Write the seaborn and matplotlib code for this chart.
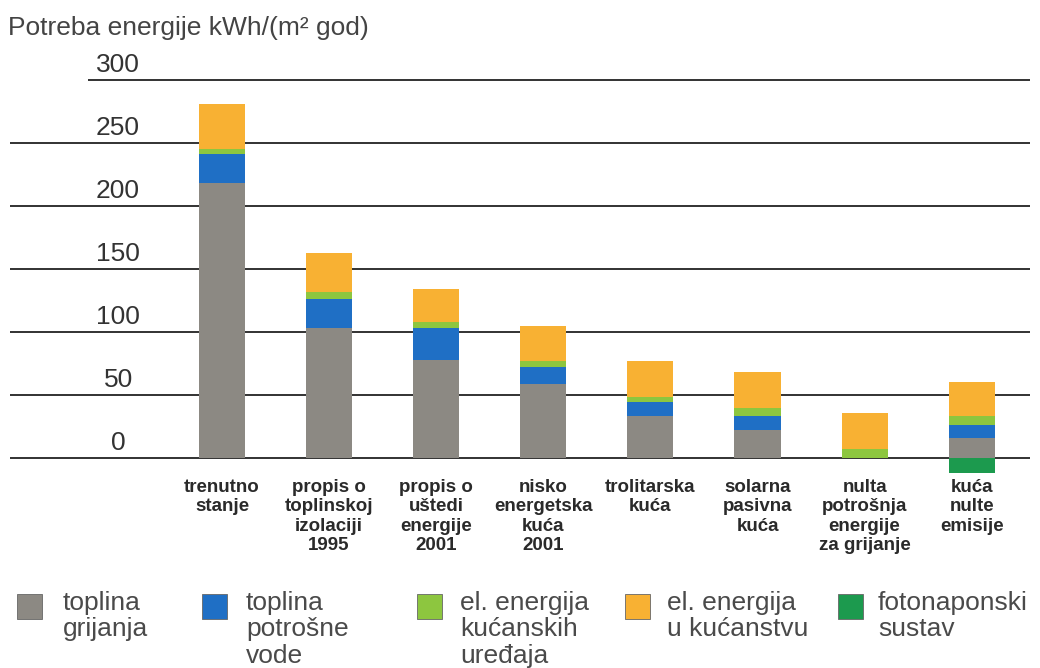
import numpy as np
import pandas as pd
import matplotlib.pyplot as plt
from matplotlib.patches import Rectangle
import seaborn as sns

sns.set_style('white')
plt.rcParams['font.family'] = ['Liberation Sans', 'DejaVu Sans']

# data (kWh/(m2 god))
categories = ['trenutno\nstanje', 'propis o\ntoplinskoj\nizolaciji\n1995', 'propis o\nuštedi\nenergije\n2001',
              'nisko\nenergetska\nkuća\n2001', 'trolitarska\nkuća', 'solarna\npasivna\nkuća',
              'nulta\npotrošnja\nenergije\nza grijanje', 'kuća\nnulte\nemisije']
toplina_grijanja = np.array([218, 103, 78, 59, 33, 22, 0, 16])
toplina_vode = np.array([23, 23, 25, 13, 11, 11, 0, 10])
el_uredaji = np.array([4, 6, 5, 5, 4, 7, 7, 7])
el_kucanstvo = np.array([36, 31, 26, 28, 29, 28, 29, 27])
fotonaponski = np.array([0, 0, 0, 0, 0, 0, 0, -12])

series_names = ['toplina\ngrijanja', 'toplina\npotrošne\nvode', 'el. energija\nkućanskih\nuređaja',
                'el. energija\nu kućanstvu', 'fotonaponski\nsustav']
colors = ['#8c8983', '#1f6fc5', '#8dc63f', '#f8b133', '#1c9a4e']
yticks = [0, 50, 100, 150, 200, 250, 300]

W, H = 1040, 668
fig = plt.figure(figsize=(W / 100, H / 100), dpi=100)
ax = fig.add_axes([0, 1 - 473 / H, 1, (473 - 60) / H])

# stacked bars: draw cumulative totals from the top layer down
cum = [toplina_grijanja,
       toplina_grijanja + toplina_vode,
       toplina_grijanja + toplina_vode + el_uredaji,
       toplina_grijanja + toplina_vode + el_uredaji + el_kucanstvo]
for i in [3, 2, 1, 0]:
    sns.barplot(x=categories, y=cum[i], color=colors[i], saturation=1, width=0.43,
                linewidth=0, ax=ax, zorder=3)
sns.barplot(x=categories, y=fotonaponski, color=colors[4], saturation=1, width=0.43,
            linewidth=0, ax=ax, zorder=3)

# gridlines and y labels sitting above them
for v in yticks:
    x0 = -1.25 if v == 300 else -1.98
    ax.hlines(v, x0, 7.545, color='#222222', lw=1.3, zorder=2)
    ax.text(-0.97, v + 2.5, str(v), ha='center', va='bottom', fontsize=19, color='#333333')

ax.set_xlim(-222 / 107.1, (1040 - 222) / 107.1)
ax.set_ylim(-12, 315.9)
ax.set_yticks([])
ax.set_ylabel('')
sns.despine(ax=ax, left=True, bottom=True)
ax.tick_params(axis='x', length=0, pad=4)
for lab in ax.get_xticklabels():
    lab.set_fontsize(13.5)
    lab.set_fontweight('bold')
    lab.set_color('#2a2a2a')
    lab.set_va('top')
    lab.set_linespacing(1.2)

fig.text(8 / W, 1 - 28 / H, 'Potreba energije kWh/(m² god)', fontsize=19, color='#444444', va='center')

# legend below the chart
sq_x = [17, 202, 417, 625, 838]
txt_x = [63, 246, 460, 667, 878]
for i in range(5):
    fig.add_artist(Rectangle((sq_x[i] / W, 1 - 619 / H), 25 / W, 25 / H, transform=fig.transFigure,
                             facecolor=colors[i], edgecolor='#666666', lw=0.6))
    fig.text(txt_x[i] / W, 1 - 591 / H, series_names[i], fontsize=19, color='#4a4a4a',
             va='top', ha='left', linespacing=1.12)

fig.savefig('out.png', dpi=100)
